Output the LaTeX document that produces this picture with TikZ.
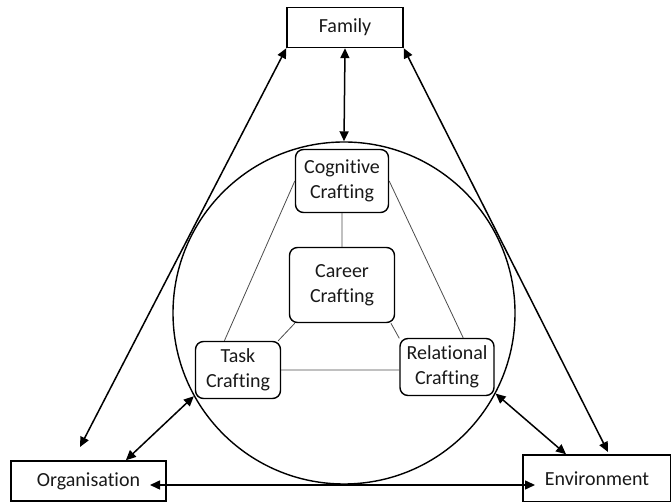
\documentclass[tikz,border=0pt]{standalone}
\usepackage{fontspec}
\setmainfont{Carlito}[Ligatures=NoCommon]
\usetikzlibrary{arrows.meta}
\begin{document}
\begin{tikzpicture}
      \tikzstyle{every node}=[font=\fontsize{20pt}{25pt}\selectfont, text=black!90]
      \tikzstyle{outer}=[draw, line width=1.4pt, inner sep=0pt]
      \tikzstyle{craft}=[draw, rounded corners=8pt, line width=1.4pt, align=center, inner sep=0pt]
      \tikzstyle{link}=[gray!60!black, line width=0.8pt]
      \tikzstyle{twoway}=[line width=1.5pt, {Triangle[length=10pt,width=9pt]}-{Triangle[length=10pt,width=9pt]}]
      \useasboundingbox (0,0) rectangle (671pt,502pt);

      \path (344pt, 189pt) node [circle, draw, line width=1.4pt, minimum size=342pt, inner sep=0pt] (ring) {};

      \path (345pt, 474.5pt) node [outer, minimum width=116pt, minimum height=40pt] (family) {Family};
      \path (88.5pt, 21pt) node [outer, minimum width=155pt, minimum height=40pt] (organisation) {Organisation};
      \path (597pt, 23.5pt) node [outer, minimum width=148pt, minimum height=47pt] (environment) {Environment};

      \foreach \n/\x/\y/\w/\h/\t in {cognitive/342/321/93/63/{Cognitive\\Crafting},
        career/342/217/105/75/{Career\\Crafting},
        task/238/132/85/57/{Task\\Crafting},
        relational/447/135/94/57/{Relational\\Crafting}}
      {
        \path (\x pt, \y pt) node [craft, minimum width=\w pt, minimum height=\h pt] (\n) {\t};
      }

      \coordinate (orgtip) at (80pt, 55pt);
      \coordinate (envtip) at (608pt, 50pt);
      \coordinate (orgend) at (150pt, 17pt);
      \coordinate (envend) at (535pt, 17pt);

      \draw [link]
        (cognitive) -- (career)
        (cognitive.west) -- (task.115)
        (cognitive.east) -- (relational.61)
        (career.219) -- (task.36)
        (career.-38) -- (relational.149)
        (task.east) -- (task.east -| relational.west);

      \draw [twoway] (family.south) -- (ring.north);
      \draw [twoway] (family.south west) -- (orgtip);
      \draw [twoway] (family.south east) -- (envtip);
      \draw [twoway] (organisation.29) -- (ring.209.5);
      \draw [twoway] (environment.142) -- (ring.-28);
      \draw [twoway] (orgend) -- (envend);
    \end{tikzpicture}
\end{document}
